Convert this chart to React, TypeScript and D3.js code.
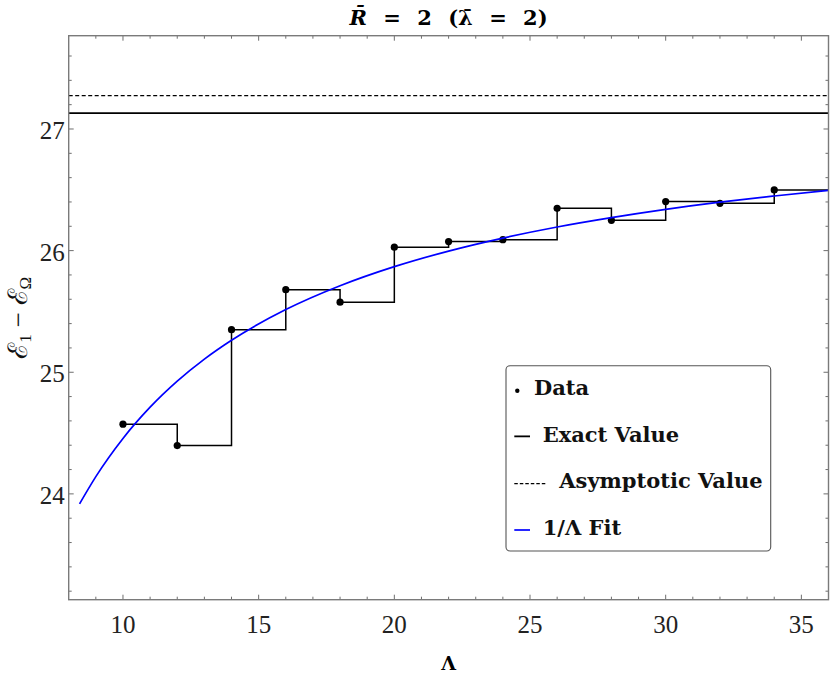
import { useEffect, useRef } from 'react'
import * as d3 from 'd3'

// Lambda values of the computed points and the energy gap read at each one
const lambdaValues = [10, 12, 14, 16, 18, 20, 22, 24, 26, 28, 30, 32, 34]
const gapValues = [24.573, 24.397, 25.35, 25.679, 25.576, 26.028, 26.074, 26.09, 26.348, 26.249, 26.403, 26.389, 26.499]

// 1/Lambda fit curve
const fitLambda = [8.4, 9, 10, 11, 12, 13, 14, 16, 18, 20, 22, 24, 26, 28, 30, 32, 34, 36]
const fitValues = [23.918, 24.142, 24.456, 24.713, 24.927, 25.108, 25.263, 25.515, 25.711, 25.868, 25.996, 26.103, 26.194, 26.271, 26.339, 26.398, 26.449, 26.496]

const exactValue = 27.131
const asymptoticValue = 27.274

const xDomain: [number, number] = [8, 36]
const yDomain: [number, number] = [23.13, 27.767]
const xMajorTicks = [10, 15, 20, 25, 30, 35]
const yMajorTicks = [24, 25, 26, 27]
const legendLabels = ['Data', 'Exact Value', 'Asymptotic Value', '1/Λ Fit']

const WIDTH = 830
const HEIGHT = 681
const margin = { top: 35.7, right: 1.5, bottom: 81.3, left: 68.7 }

export default function App() {
  const svgRef = useRef<SVGSVGElement>(null)

  useEffect(() => {
    if (!svgRef.current) return
    const svg = d3.select(svgRef.current)
    svg.selectAll('*').remove()

    const left = margin.left
    const right = WIDTH - margin.right
    const top = margin.top
    const bottom = HEIGHT - margin.bottom

    const x = d3.scaleLinear().domain(xDomain).range([left, right])
    const y = d3.scaleLinear().domain(yDomain).range([bottom, top])

    svg.append('rect').attr('width', WIDTH).attr('height', HEIGHT).attr('fill', '#fff')

    svg
      .append('clipPath')
      .attr('id', 'plot-clip')
      .append('rect')
      .attr('x', left)
      .attr('y', top)
      .attr('width', right - left)
      .attr('height', bottom - top)

    const plot = svg.append('g').attr('clip-path', 'url(#plot-clip)')

    // reference lines
    plot
      .append('line')
      .attr('x1', left)
      .attr('x2', right)
      .attr('y1', y(exactValue))
      .attr('y2', y(exactValue))
      .attr('stroke', '#000')
      .attr('stroke-width', 1.8)

    plot
      .append('line')
      .attr('x1', left)
      .attr('x2', right)
      .attr('y1', y(asymptoticValue))
      .attr('y2', y(asymptoticValue))
      .attr('stroke', '#000')
      .attr('stroke-width', 1.2)
      .attr('stroke-dasharray', '4,2.5')

    // step line through the data, held to the right edge
    const stepData: [number, number][] = lambdaValues.map((l, i) => [l, gapValues[i]])
    stepData.push([xDomain[1], gapValues[gapValues.length - 1]])

    const stepLine = d3
      .line<[number, number]>()
      .x(d => x(d[0]))
      .y(d => y(d[1]))
      .curve(d3.curveStepAfter)

    plot
      .append('path')
      .datum(stepData)
      .attr('fill', 'none')
      .attr('stroke', '#000')
      .attr('stroke-width', 1.5)
      .attr('d', stepLine)

    plot
      .selectAll('circle.pt')
      .data(lambdaValues)
      .join('circle')
      .attr('class', 'pt')
      .attr('cx', d => x(d))
      .attr('cy', (_, i) => y(gapValues[i]))
      .attr('r', 3.6)
      .attr('fill', '#000')

    // fit curve
    const fitLine = d3
      .line<number>()
      .x(d => x(d))
      .y((_, i) => y(fitValues[i]))
      .curve(d3.curveMonotoneX)

    plot
      .append('path')
      .datum(fitLambda)
      .attr('fill', 'none')
      .attr('stroke', '#0000ff')
      .attr('stroke-width', 1.7)
      .attr('d', fitLine)

    // ticks on all four sides
    const tickColor = '#6e6e6e'
    const ticks = svg.append('g').attr('stroke', tickColor).attr('stroke-width', 1)
    const xMinor = d3.range(9, 36)
    xMinor.forEach(v => {
      const len = xMajorTicks.includes(v) ? 5 : 3
      ticks.append('line').attr('x1', x(v)).attr('x2', x(v)).attr('y1', bottom).attr('y2', bottom - len)
      ticks.append('line').attr('x1', x(v)).attr('x2', x(v)).attr('y1', top).attr('y2', top + len)
    })
    const yMinor = d3.range(116, 139).map(d => d / 5)
    yMinor.forEach(v => {
      const len = yMajorTicks.some(t => Math.abs(t - v) < 1e-6) ? 5 : 3
      ticks.append('line').attr('x1', left).attr('x2', left + len).attr('y1', y(v)).attr('y2', y(v))
      ticks.append('line').attr('x1', right).attr('x2', right - len).attr('y1', y(v)).attr('y2', y(v))
    })

    // frame
    svg
      .append('rect')
      .attr('x', left)
      .attr('y', top)
      .attr('width', right - left)
      .attr('height', bottom - top)
      .attr('fill', 'none')
      .attr('stroke', '#7a7a7a')
      .attr('stroke-width', 1.4)

    // tick labels
    const labelFont = 'Liberation Serif, Times New Roman, DejaVu Serif, serif'
    svg
      .append('g')
      .selectAll('text')
      .data(xMajorTicks)
      .join('text')
      .attr('x', d => x(d))
      .attr('y', 633)
      .attr('text-anchor', 'middle')
      .style('font-family', labelFont)
      .attr('font-size', 25)
      .attr('fill', '#222')
      .text(d => d)

    svg
      .append('g')
      .selectAll('text')
      .data(yMajorTicks)
      .join('text')
      .attr('x', left - 4)
      .attr('y', d => y(d) + 10)
      .attr('text-anchor', 'end')
      .style('font-family', labelFont)
      .attr('font-size', 25)
      .attr('fill', '#222')
      .text(d => d)

    // axis labels
    svg
      .append('text')
      .attr('x', (left + right) / 2)
      .attr('y', 670)
      .attr('text-anchor', 'middle')
      .style('font-family', 'DejaVu Serif, serif')
      .attr('font-weight', 'bold')
      .attr('font-size', 19)
      .text('Λ')

    const yLabel = svg
      .append('text')
      .attr('transform', `translate(27,${(top + bottom) / 2}) rotate(-90)`)
      .attr('text-anchor', 'middle')
      .style('font-family', labelFont)
      .attr('font-size', 27)
      .attr('fill', '#111')
    yLabel.append('tspan').text('ℰ')
    yLabel.append('tspan').attr('font-size', 17).attr('dy', 4).text('1')
    yLabel.append('tspan').attr('dy', -4).text(' − ℰ')
    yLabel.append('tspan').attr('font-size', 17).attr('dy', 4).text('Ω')

    // title
    const title = svg
      .append('text')
      .attr('x', (left + right) / 2)
      .attr('y', 25)
      .attr('text-anchor', 'middle')
      .style('font-family', 'DejaVu Serif, serif')
      .attr('font-weight', 'bold')
      .attr('font-size', 21)
      .attr('word-spacing', 9)
    title.append('tspan').attr('font-style', 'italic').text('R\u0304')
    title.append('tspan').text(' = 2 (λ\u0304 = 2)')

    // legend
    const legend = svg.append('g')
    legend
      .append('rect')
      .attr('x', 506)
      .attr('y', 365.7)
      .attr('width', 264.7)
      .attr('height', 185.3)
      .attr('rx', 4)
      .attr('fill', '#fff')
      .attr('stroke', '#555')
      .attr('stroke-width', 1.1)

    const rowY = d3.scaleLinear().domain([0, 3]).range([395, 535])
    const symbolX = 514.3
    const textX = [534, 542.7, 559.3, 542.7]

    legend
      .append('circle')
      .attr('cx', symbolX + 3)
      .attr('cy', rowY(0) - 4.3)
      .attr('r', 2.2)
      .attr('fill', '#000')
    legend
      .append('line')
      .attr('x1', symbolX)
      .attr('x2', symbolX + 15.7)
      .attr('y1', rowY(1) - 5.3)
      .attr('y2', rowY(1) - 5.3)
      .attr('stroke', '#000')
      .attr('stroke-width', 1.8)
    legend
      .append('line')
      .attr('x1', symbolX)
      .attr('x2', symbolX + 31.7)
      .attr('y1', rowY(2) - 4.7)
      .attr('y2', rowY(2) - 4.7)
      .attr('stroke', '#000')
      .attr('stroke-width', 1.2)
      .attr('stroke-dasharray', '3.5,2')
    legend
      .append('line')
      .attr('x1', symbolX)
      .attr('x2', symbolX + 15.7)
      .attr('y1', rowY(3) - 5)
      .attr('y2', rowY(3) - 5)
      .attr('stroke', '#0000ff')
      .attr('stroke-width', 1.7)

    legend
      .selectAll('text')
      .data(legendLabels)
      .join('text')
      .attr('x', (_, i) => textX[i])
      .attr('y', (_, i) => rowY(i))
      .style('font-family', 'DejaVu Serif, serif')
      .attr('font-weight', 'bold')
      .attr('font-size', 21)
      .attr('fill', '#111')
      .text(d => d)
  }, [])

  return (
    <svg
      ref={svgRef}
      width={WIDTH}
      height={HEIGHT}
      style={{ position: 'absolute', left: 0, top: 0 }}
    />
  )
}
